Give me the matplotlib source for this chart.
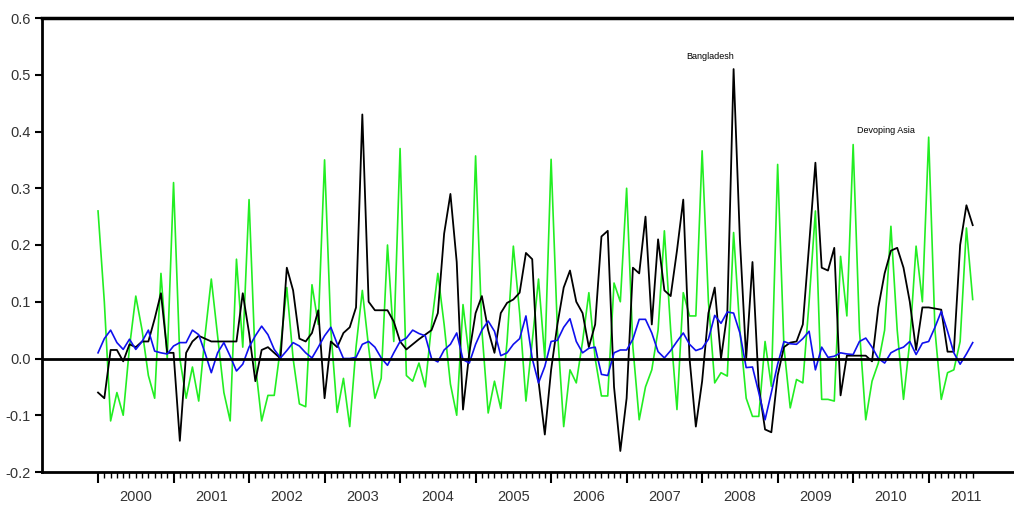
import numpy as np
import matplotlib
matplotlib.use("Agg")
import matplotlib.pyplot as plt

# monthly series, Jan 2000 .. Aug 2011
bangladesh = [
    -0.06, -0.07, 0.015, 0.015, -0.005, 0.025, 0.02, 0.03, 0.03, 0.07,
    0.115, 0.01, 0.01, -0.145, 0.01, 0.03, 0.04, 0.035, 0.03, 0.03,
    0.03, 0.03, 0.03, 0.115, 0.045, -0.04, 0.015, 0.02, 0.01, 0.0,
    0.16, 0.12, 0.035, 0.03, 0.045, 0.085, -0.07, 0.03, 0.02, 0.045,
    0.055, 0.09, 0.43, 0.1, 0.085, 0.085, 0.085, 0.065, 0.03, 0.016,
    0.025, 0.034, 0.042, 0.05, 0.08, 0.22, 0.29, 0.17, -0.09, 0.01,
    0.08, 0.11, 0.05, 0.01, 0.08, 0.098, 0.104, 0.116, 0.186, 0.175,
    -0.04, -0.134, -0.02, 0.06, 0.125, 0.155, 0.1, 0.08, 0.02, 0.06,
    0.215, 0.225, -0.05, -0.163, -0.07, 0.16, 0.15, 0.25, 0.06, 0.21,
    0.12, 0.11, 0.19, 0.28, 0.0, -0.12, -0.04, 0.08, 0.125, 0.0,
    0.08, 0.51, 0.21, 0.0, 0.17, -0.05, -0.125, -0.13, -0.03, 0.02,
    0.028, 0.03, 0.06, 0.2, 0.345, 0.16, 0.155, 0.195, -0.065, 0.005,
    0.005, 0.005, 0.005, -0.005, 0.09, 0.15, 0.19, 0.195, 0.16, 0.1,
    0.015, 0.09, 0.09, 0.088, 0.086, 0.012, 0.012, 0.2, 0.27, 0.235,
]

developing_asia = [
    0.26, 0.10, -0.11, -0.06, -0.10, 0.02, 0.11, 0.05, -0.03, -0.07,
    0.15, 0.0, 0.31, 0.0, -0.07, -0.015, -0.075, 0.04, 0.14, 0.04,
    -0.06, -0.11, 0.175, 0.02, 0.28, -0.01, -0.11, -0.065, -0.065, 0.02,
    0.125, 0.0, -0.08, -0.085, 0.13, 0.06, 0.35, 0.05, -0.095, -0.035,
    -0.12, 0.02, 0.12, 0.02, -0.07, -0.035, 0.2, 0.03, 0.37, -0.03,
    -0.04, -0.008, -0.05, 0.06, 0.15, 0.06, -0.045, -0.10, 0.095, 0.0,
    0.357, 0.05, -0.096, -0.04, -0.088, 0.03, 0.198, 0.08, -0.075, 0.03,
    0.14, 0.0, 0.351, 0.05, -0.12, -0.02, -0.043, 0.03, 0.116, 0.0,
    -0.066, -0.066, 0.133, 0.1, 0.30, 0.02, -0.108, -0.05, -0.02, 0.05,
    0.225, 0.05, -0.09, 0.116, 0.075, 0.075, 0.366, 0.1, -0.043, -0.025,
    -0.031, 0.222, 0.05, -0.07, -0.102, -0.102, 0.03, -0.049, 0.342, 0.02,
    -0.087, -0.037, -0.043, 0.1, 0.26, -0.072, -0.072, -0.075, 0.18, 0.075,
    0.377, 0.05, -0.108, -0.04, -0.008, 0.05, 0.233, 0.05, -0.072, 0.03,
    0.198, 0.1, 0.39, 0.05, -0.072, -0.025, -0.02, 0.03, 0.23, 0.104,
]

third_series = [
    0.01, 0.035, 0.05, 0.028, 0.016, 0.034, 0.016, 0.03, 0.05, 0.013,
    0.01, 0.008, 0.022, 0.028, 0.028, 0.05, 0.042, 0.01, -0.025, 0.01,
    0.028, 0.004, -0.022, -0.01, 0.02, 0.04, 0.057, 0.042, 0.016, 0.001,
    0.014, 0.028, 0.022, 0.01, 0.001, 0.02, 0.04, 0.055, 0.026, 0.0,
    0.0, 0.002, 0.025, 0.03, 0.02, 0.001, -0.012, 0.01, 0.03, 0.036,
    0.05, 0.044, 0.04, 0.0, -0.006, 0.015, 0.025, 0.045, -0.002, -0.008,
    0.025, 0.05, 0.066, 0.048, 0.005, 0.01, 0.025, 0.035, 0.075, 0.0,
    -0.043, -0.014, 0.03, 0.032, 0.055, 0.07, 0.03, 0.01, 0.018, 0.02,
    -0.028, -0.03, 0.01, 0.015, 0.015, 0.034, 0.069, 0.069, 0.045, 0.012,
    0.001, 0.014, 0.03, 0.045, 0.025, 0.014, 0.018, 0.034, 0.076, 0.062,
    0.082, 0.08, 0.045, -0.016, -0.015, -0.06, -0.108, -0.06, -0.01, 0.03,
    0.026, 0.025, 0.035, 0.048, -0.02, 0.02, 0.002, 0.004, 0.01, 0.008,
    0.007, 0.03, 0.036, 0.02, 0.0, -0.008, 0.01, 0.016, 0.02, 0.03,
    0.007, 0.027, 0.03, 0.055, 0.083, 0.048, 0.01, -0.01, 0.008, 0.028,
]

years = list(range(2000, 2012))
yticks = [-0.2, -0.1, 0.0, 0.1, 0.2, 0.3, 0.4, 0.5, 0.6]

t = 2000 + np.arange(len(bangladesh)) / 12.0

font = ['Liberation Sans Narrow', 'Liberation Sans', 'DejaVu Sans']
plt.rcParams['font.family'] = font

fig = plt.figure(figsize=(10.14, 5.09), dpi=100)
ax = fig.add_axes([42 / 1014, 37 / 509, 1 - 42 / 1014, 454 / 509])

ax.plot(t, developing_asia, color='#22ee22', lw=1.2, zorder=2)
ax.plot(t, bangladesh, color='black', lw=1.3, zorder=3)
ax.plot(t, third_series, color='#1010ee', lw=1.2, zorder=4)
ax.axhline(0, color='black', lw=2, zorder=5)

ax.set_xlim(1999.258, 2012.13)
ax.set_ylim(-0.2, 0.6)

ax.set_yticks(yticks, labels=['%.1f' % v for v in yticks])
ax.set_xticks(years, labels=[''] * len(years))
ax.set_xticks(t, minor=True)
ax.tick_params(axis='y', direction='out', length=5, width=1.5,
               labelsize=10.5, labelcolor='#333333', pad=3)
ax.tick_params(axis='x', which='major', direction='out', length=8, width=1.5)
ax.tick_params(axis='x', which='minor', direction='out', length=4, width=1)

for y in years:
    ax.text(y + 0.5, -0.055, str(y), transform=ax.get_xaxis_transform(),
            ha='center', va='center', fontsize=10.5, color='#333333')

for s in ['left', 'bottom']:
    ax.spines[s].set_linewidth(2)
ax.spines['top'].set_linewidth(2.5)
ax.spines['right'].set_visible(False)

ax.text(2000 + (710 - 98) / 75.5, 0.533, 'Bangladesh', ha='center', va='center',
        fontsize=6.5, color='black')
ax.text(2000 + (886 - 98) / 75.5, 0.401, 'Devoping Asia', ha='center', va='center',
        fontsize=6.5, color='black')

fig.savefig('out.png', dpi=100)
